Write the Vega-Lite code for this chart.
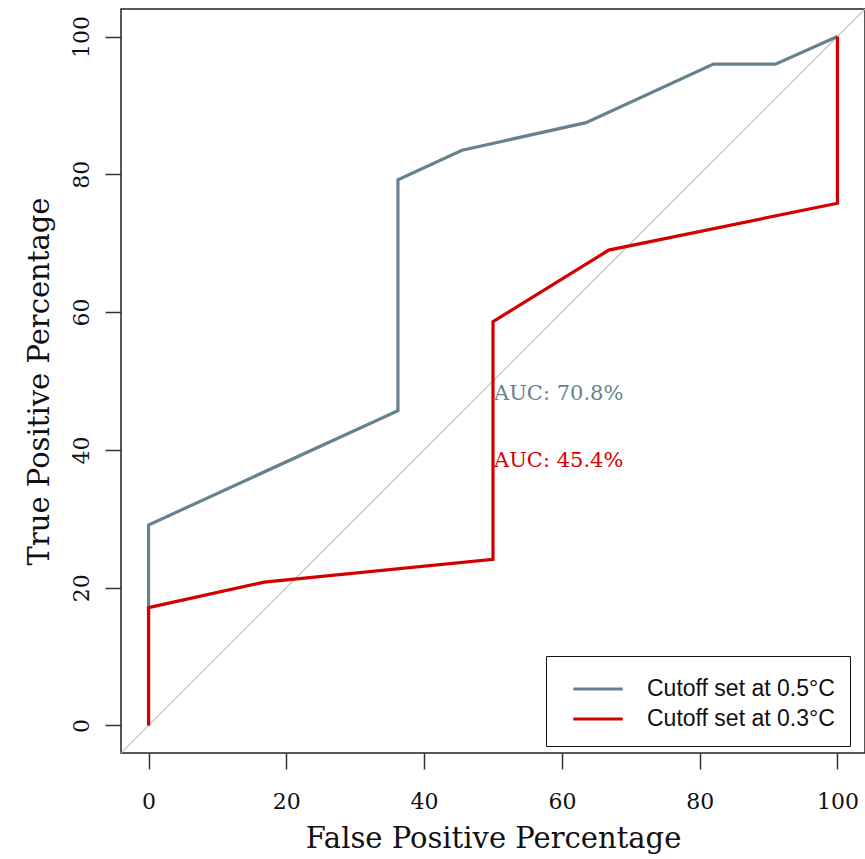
{
  "$schema": "https://vega.github.io/schema/vega-lite/v6.json",
  "autosize": "none",
  "padding": {"left": 121, "top": 9, "right": 0, "bottom": 106},
  "width": 744,
  "height": 744,
  "background": "white",
  "config": {
    "view": {"stroke": "#222222", "strokeWidth": 1.5},
    "axis": {
      "grid": false,
      "domain": false,
      "tickColor": "#333333",
      "tickWidth": 1.5,
      "tickSize": 16,
      "labelFont": "DejaVu Serif",
      "labelFontSize": 22,
      "labelColor": "#111111",
      "titleFont": "DejaVu Serif",
      "titleFontSize": 29,
      "titleFontWeight": "normal",
      "titleColor": "#111111"
    }
  },
  "datasets": {
    "roc": [
      {"series": "Cutoff set at 0.5°C", "ord": 1, "fpr": 0, "tpr": 0},
      {"series": "Cutoff set at 0.5°C", "ord": 2, "fpr": 0, "tpr": 29.1},
      {"series": "Cutoff set at 0.5°C", "ord": 3, "fpr": 36.2, "tpr": 45.7},
      {"series": "Cutoff set at 0.5°C", "ord": 4, "fpr": 36.2, "tpr": 79.2},
      {"series": "Cutoff set at 0.5°C", "ord": 5, "fpr": 45.5, "tpr": 83.5},
      {"series": "Cutoff set at 0.5°C", "ord": 6, "fpr": 63.5, "tpr": 87.5},
      {"series": "Cutoff set at 0.5°C", "ord": 7, "fpr": 82.0, "tpr": 96.0},
      {"series": "Cutoff set at 0.5°C", "ord": 8, "fpr": 91.0, "tpr": 96.0},
      {"series": "Cutoff set at 0.5°C", "ord": 9, "fpr": 100, "tpr": 100},
      {"series": "Cutoff set at 0.3°C", "ord": 1, "fpr": 0, "tpr": 0},
      {"series": "Cutoff set at 0.3°C", "ord": 2, "fpr": 0, "tpr": 17.1},
      {"series": "Cutoff set at 0.3°C", "ord": 3, "fpr": 16.8, "tpr": 20.8},
      {"series": "Cutoff set at 0.3°C", "ord": 4, "fpr": 50.0, "tpr": 24.1},
      {"series": "Cutoff set at 0.3°C", "ord": 5, "fpr": 50.0, "tpr": 58.6},
      {"series": "Cutoff set at 0.3°C", "ord": 6, "fpr": 66.8, "tpr": 69.0},
      {"series": "Cutoff set at 0.3°C", "ord": 7, "fpr": 100, "tpr": 75.8},
      {"series": "Cutoff set at 0.3°C", "ord": 8, "fpr": 100, "tpr": 100}
    ],
    "diag": [
      {"fpr": -4, "tpr": -4},
      {"fpr": 104, "tpr": 104}
    ],
    "auc": [
      {"series": "Cutoff set at 0.5°C", "fpr": 50, "tpr": 47.2, "label": "AUC: 70.8%"},
      {"series": "Cutoff set at 0.3°C", "fpr": 50, "tpr": 37.55, "label": "AUC: 45.4%"}
    ]
  },
  "encoding": {
    "x": {
      "field": "fpr", "type": "quantitative",
      "scale": {"domain": [-4, 104], "nice": false, "zero": false},
      "axis": {
        "values": [0, 20, 40, 60, 80, 100],
        "title": "False Positive Percentage",
        "labelBaseline": "alphabetic",
        "labelPadding": 39,
        "titleBaseline": "alphabetic",
        "titleY": 94
      }
    },
    "y": {
      "field": "tpr", "type": "quantitative",
      "scale": {"domain": [-4, 104], "nice": false, "zero": false},
      "axis": {
        "values": [0, 20, 40, 60, 80, 100],
        "title": "True Positive Percentage",
        "labelAngle": -90,
        "labelAlign": "center",
        "labelBaseline": "alphabetic",
        "labelPadding": 17,
        "titleAngle": -90,
        "titleBaseline": "alphabetic",
        "titleX": -73
      }
    }
  },
  "layer": [
    {
      "data": {"name": "diag"},
      "mark": {"type": "line", "color": "#bdbdbd", "strokeWidth": 1.2, "clip": true},
      "encoding": {}
    },
    {
      "data": {"name": "roc"},
      "mark": {"type": "line", "strokeWidth": 3.2, "strokeJoin": "miter", "strokeCap": "butt"},
      "encoding": {
        "order": {"field": "ord", "type": "quantitative"},
        "color": {
          "field": "series", "type": "nominal",
          "scale": {"domain": ["Cutoff set at 0.5°C", "Cutoff set at 0.3°C"], "range": ["#66828f", "#d40000"]},
          "legend": {
            "title": null,
            "orient": "none",
            "legendX": 425,
            "legendY": 647,
            "padding": 15,
            "strokeColor": "#111111",
            "fillColor": "white",
            "symbolType": "M-1.5,0H1.5",
            "symbolSize": 1089,
            "symbolStrokeWidth": 3,
            "symbolOffset": 19,
            "labelOffset": 31,
            "labelFont": "Liberation Sans",
            "labelFontSize": 23,
            "labelColor": "#111111",
            "labelLimit": 400,
            "rowPadding": 0
          }
        }
      }
    },
    {
      "data": {"name": "auc"},
      "mark": {"type": "text", "font": "DejaVu Serif", "fontSize": 21, "align": "left", "baseline": "alphabetic", "dx": 1},
      "encoding": {
        "text": {"field": "label"},
        "color": {"field": "series", "type": "nominal"}
      }
    }
  ]
}
